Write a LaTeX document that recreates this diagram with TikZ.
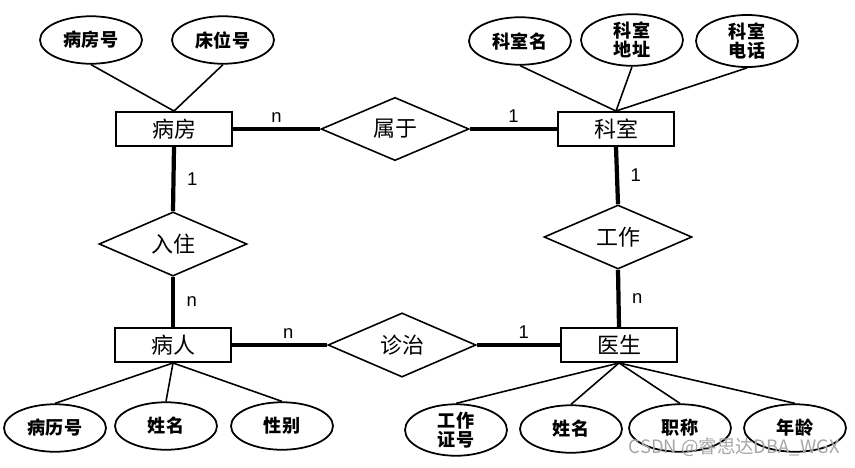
\documentclass[tikz,border=0pt]{standalone}
\usepackage{fontspec}
\usepackage{tikz}
\usetikzlibrary{shapes.geometric,positioning}

\newfontfamily\cjk{Noto Sans CJK SC}
\newfontfamily\numfont{Liberation Sans}

\begin{document}
\begin{tikzpicture}[x=0.02cm,y=-0.02cm]

  % Parameters
  \def\wentity{2.32cm}
  \def\hentity{0.68cm}
  \def\wrel{2.96cm}
  \def\hrel{1.2cm}
  \def\wattr{2.04cm}
  \def\hattr{0.95cm}

  % Styles
  \tikzstyle{entity}=[draw,line width=1.1pt,minimum width=\wentity,minimum height=\hentity,inner sep=0pt,font=\cjk\fontsize{12.5}{14}\selectfont]
  \tikzstyle{relation}=[draw,diamond,line width=0.9pt,minimum width=\wrel,minimum height=\hrel,inner sep=0pt,font=\cjk\fontsize{12.5}{14}\selectfont]
  \tikzstyle{attr}=[draw,ellipse,line width=1pt,minimum width=\wattr,minimum height=\hattr,inner sep=0pt,align=center,font=\cjk\bfseries\fontsize{10.3}{11}\selectfont]
  \tikzstyle{link}=[line width=2.4pt]
  \tikzstyle{edge}=[line width=0.9pt]
  \tikzstyle{card}=[font=\numfont\fontsize{10.5}{12}\selectfont,inner sep=2.5pt]
  \tikzstyle{watermark}=[text=black!35,font=\cjk\fontsize{10.5}{12}\selectfont,inner sep=0pt]

  % ===========================================================================

  \useasboundingbox (0,0) rectangle (855,467);

  % Draw entities
  \node[entity] (bingfang) at (174,129) {病房};
  \node[entity] (keshi)    at (616,129) {科室};
  \node[entity] (bingren)  at (173,345) {病人};
  \node[entity] (yisheng)  at (619,345) {医生};

  % Draw relations
  \node[relation] (shuyu)   at (395,129) {属于};
  \node[relation] (ruzhu)   at (173,244) {入住};
  \node[relation] (gongzuo) at (618,237) {工作};
  \node[relation] (zhenzhi) at (402,345) {诊治};

  % Draw attributes
  \node[attr] (bfh)  at (91,40)  {病房号};
  \node[attr] (cwh)  at (223,40) {床位号};
  \node[attr] (ksm)  at (520,41) {科室名};
  \node[attr] (ksdz) at (632,40) {科室\\地址};
  \node[attr] (ksdh) at (747,41) {科室\\电话};
  \node[attr] (blh)  at (55,428)  {病历号};
  \node[attr] (brxm) at (166,426) {姓名};
  \node[attr] (xb)   at (282,426) {性别};
  \node[attr] (gzzh) at (456,430) {工作\\证号};
  \node[attr] (ysxm) at (571,429) {姓名};
  \node[attr] (zc)   at (680,428) {职称};
  \node[attr] (nl)   at (795,428) {年龄};

  % Draw attribute edges
  \foreach \a in {bfh,cwh}
    \draw[edge] (\a.south) -- (bingfang.north);
  \foreach \a in {ksm,ksdz,ksdh}
    \draw[edge] (\a.south) -- (keshi.north);
  \foreach \a in {blh,brxm,xb}
    \draw[edge] (bingren.south) -- (\a.north);
  \foreach \a in {gzzh,ysxm,zc,nl}
    \draw[edge] (yisheng.south) -- (\a.north);

  % Draw links with cardinalities
  \draw[link] (bingfang.east) -- node[card,above] (c-bs) {n} (shuyu.west);
  \draw[link] (shuyu.east) -- node[card,above] (c-sk) {1} (keshi.west);
  \draw[link] (bingfang.south) -- node[card,right=4pt] (c-br) {1} (ruzhu.north);
  \draw[link] (ruzhu.south) -- node[card,right=4pt] (c-rb) {n} (bingren.north);
  \draw[link] (keshi.south) -- node[card,right=4pt] (c-kg) {1} (gongzuo.north);
  \draw[link] (gongzuo.south) -- node[card,right=4pt] (c-gy) {n} (yisheng.north);
  \draw[link] (bingren.east) -- node[card,above,xshift=5pt] (c-bz) {n} (zhenzhi.west);
  \draw[link] (zhenzhi.east) -- node[card,above,xshift=3pt] (c-zy) {1} (yisheng.west);

  % Draw watermark
  \node[watermark,anchor=east] (mark) at (840,447) {CSDN @睿思达DBA\_WGX};

\end{tikzpicture}
\end{document}
